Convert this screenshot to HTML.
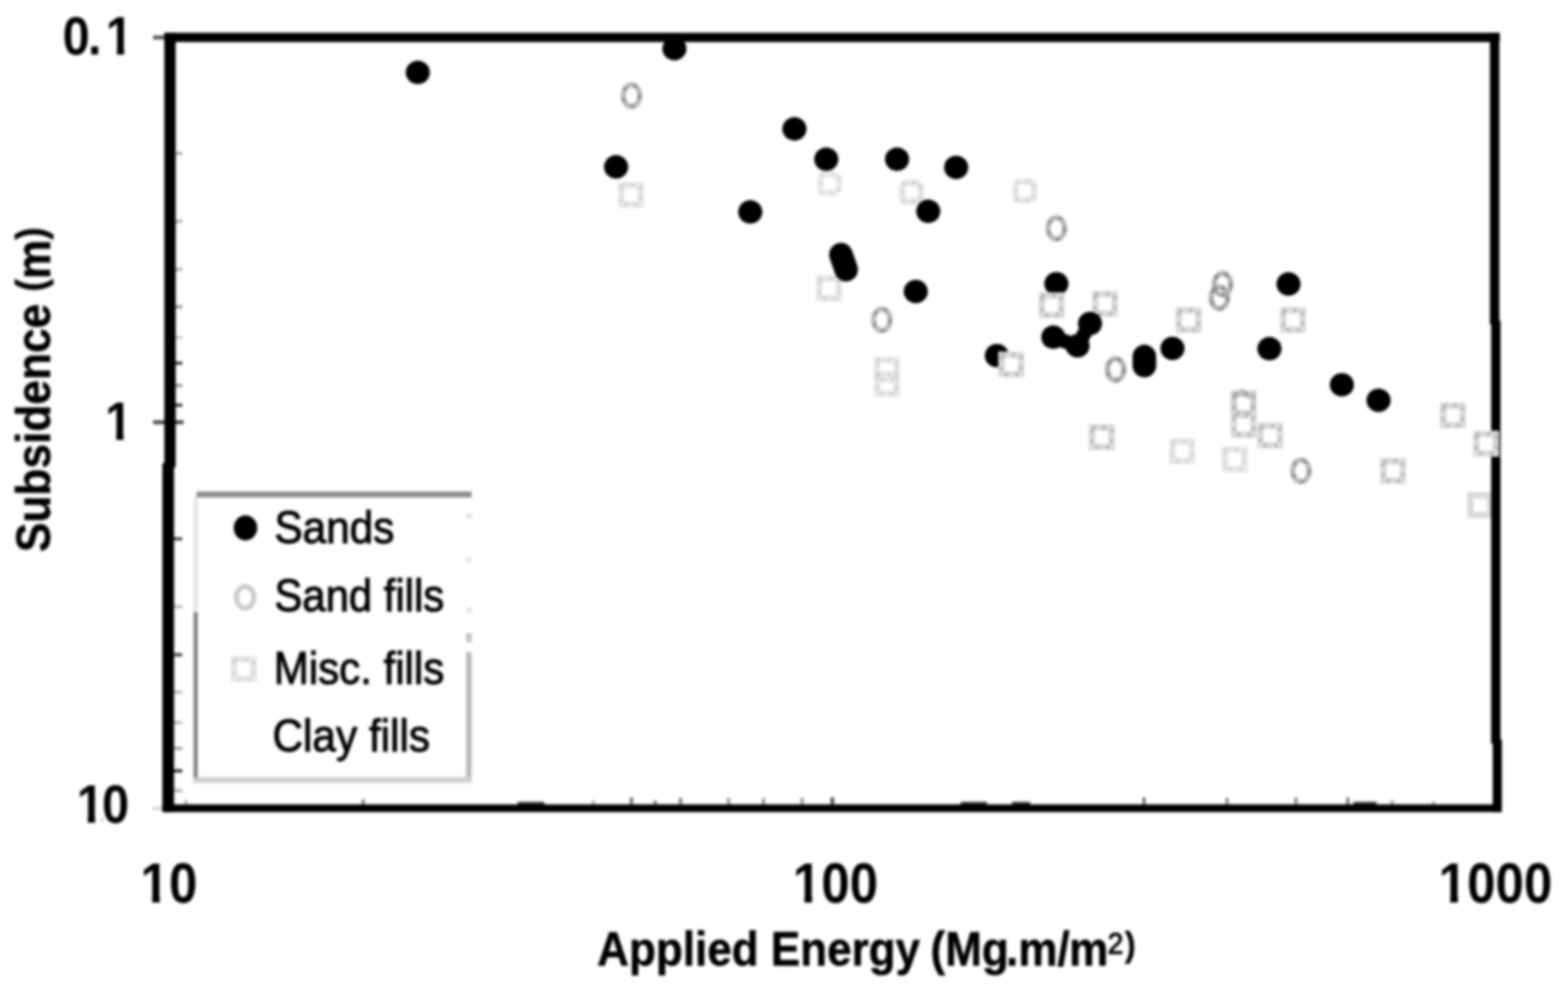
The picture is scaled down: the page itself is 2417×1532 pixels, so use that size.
<!DOCTYPE html>
<html lang="en"><head><meta charset="utf-8"><title>Subsidence vs Applied Energy</title>
<style>html,body{margin:0;padding:0;background:#fff}body{width:2417px;height:1532px;overflow:hidden}svg{display:block}text{font-family:"Liberation Sans",sans-serif;fill:#000}.b{font-weight:700}</style></head><body>
<svg width="2417" height="1532" viewBox="0 0 2417 1532" role="img" aria-label="Scatter plot of subsidence against applied energy">
<defs><filter id="bl" x="-5%" y="-5%" width="110%" height="110%" color-interpolation-filters="sRGB"><feGaussianBlur stdDeviation="2"/></filter>
<clipPath id="c0"><rect x="-20" y="-92.4" width="156.8" height="83.3"/><rect x="0.0" y="-9.6" width="46.7" height="33.8"/><rect x="43.4" y="-9.6" width="23.3" height="33.8"/><rect x="93.3" y="-9.6" width="12.5" height="12.6"/></clipPath>
<clipPath id="c1"><rect x="-20" y="-92.4" width="86.7" height="83.3"/><rect x="19.1" y="-9.6" width="12.5" height="12.6"/></clipPath>
<clipPath id="c2"><rect x="-20" y="-92.4" width="133.4" height="83.3"/><rect x="19.1" y="-9.6" width="12.5" height="12.6"/><rect x="43.7" y="-9.6" width="46.7" height="33.8"/></clipPath>
<clipPath id="c3"><rect x="-20" y="-95.7" width="136.8" height="86.3"/><rect x="19.8" y="-9.9" width="12.9" height="12.9"/><rect x="48.4" y="-9.9" width="48.4" height="35.0"/></clipPath>
<clipPath id="c4"><rect x="-20" y="-95.7" width="185.2" height="86.3"/><rect x="19.8" y="-9.9" width="12.9" height="12.9"/><rect x="48.4" y="-9.9" width="48.4" height="35.0"/><rect x="96.8" y="-9.9" width="48.4" height="35.0"/></clipPath>
<clipPath id="c5"><rect x="-20" y="-95.7" width="233.5" height="86.3"/><rect x="19.8" y="-9.9" width="12.9" height="12.9"/><rect x="48.4" y="-9.9" width="48.4" height="35.0"/><rect x="96.8" y="-9.9" width="48.4" height="35.0"/><rect x="145.2" y="-9.9" width="48.4" height="35.0"/></clipPath>
</defs>
<rect width="2417" height="1532" fill="#fff"/>
<g filter="url(#bl)">
<g stroke="#000" stroke-width="5">
<line x1="266" y1="236.5" x2="281" y2="236.5" stroke-opacity="0.30"/>
<line x1="266" y1="341.1" x2="281" y2="341.1" stroke-opacity="0.30"/>
<line x1="266" y1="415.3" x2="281" y2="415.3" stroke-opacity="0.30"/>
<line x1="266" y1="472.9" x2="281" y2="472.9" stroke-opacity="0.40"/>
<line x1="266" y1="519.9" x2="281" y2="519.9" stroke-opacity="0.20"/>
<line x1="266" y1="559.7" x2="281" y2="559.7" stroke-opacity="0.75"/>
<line x1="266" y1="594.1" x2="281" y2="594.1" stroke-opacity="0.40"/>
<line x1="266" y1="624.5" x2="281" y2="624.5" stroke-opacity="0.75"/>
<line x1="266" y1="830.5" x2="281" y2="830.5" stroke-opacity="0.70"/>
<line x1="266" y1="935.1" x2="281" y2="935.1" stroke-opacity="0.25"/>
<line x1="266" y1="1009.3" x2="281" y2="1009.3" stroke-opacity="0.70"/>
<line x1="266" y1="1066.9" x2="281" y2="1066.9" stroke-opacity="0.25"/>
<line x1="266" y1="1113.9" x2="281" y2="1113.9" stroke-opacity="0.25"/>
<line x1="266" y1="1153.7" x2="281" y2="1153.7" stroke-opacity="0.35"/>
<line x1="266" y1="1188.1" x2="281" y2="1188.1" stroke-opacity="0.80"/>
<line x1="266" y1="1218.5" x2="281" y2="1218.5" stroke-opacity="0.30"/>
<line x1="286.5" y1="1241.8" x2="286.5" y2="1233.8" stroke-opacity="0.30"/>
<line x1="559.8" y1="1241.8" x2="559.8" y2="1231.8" stroke-opacity="0.50"/>
<line x1="914.4" y1="1241.8" x2="914.4" y2="1233.8" stroke-opacity="0.30"/>
<line x1="973.4" y1="1241.8" x2="973.4" y2="1228.8" stroke-opacity="0.55"/>
<line x1="1009.8" y1="1241.8" x2="1009.8" y2="1233.8" stroke-opacity="0.50"/>
<line x1="1049.0" y1="1241.8" x2="1049.0" y2="1229.8" stroke-opacity="0.50"/>
<line x1="1123.1" y1="1241.8" x2="1123.1" y2="1229.8" stroke-opacity="0.40"/>
<line x1="1176.9" y1="1241.8" x2="1176.9" y2="1229.8" stroke-opacity="0.40"/>
<line x1="1236.5" y1="1241.8" x2="1236.5" y2="1229.8" stroke-opacity="0.40"/>
<line x1="1283.0" y1="1241.8" x2="1283.0" y2="1228.8" stroke-opacity="0.75"/>
<line x1="1763.5" y1="1241.8" x2="1763.5" y2="1228.8" stroke-opacity="0.55"/>
<line x1="1891.5" y1="1241.8" x2="1891.5" y2="1229.8" stroke-opacity="0.45"/>
<line x1="1997.6" y1="1241.8" x2="1997.6" y2="1228.8" stroke-opacity="0.45"/>
<line x1="2077.5" y1="1241.8" x2="2077.5" y2="1228.8" stroke-opacity="0.50"/>
<line x1="2145.8" y1="1241.8" x2="2145.8" y2="1233.8" stroke-opacity="0.40"/>
<line x1="2209.8" y1="1241.8" x2="2209.8" y2="1234.8" stroke-opacity="0.30"/>
</g>
<g fill="#000" fill-opacity="0.8">
<rect x="798.0" y="1235.8" width="41.0" height="6.0"/>
<rect x="1481.0" y="1235.8" width="40.0" height="6.0"/>
<rect x="1560.0" y="1235.8" width="28.0" height="6.0"/>
<rect x="2086.0" y="1235.8" width="36.0" height="6.0"/>
</g>
<g stroke="#000" stroke-width="6">
<line x1="236" y1="57.7" x2="256" y2="57.7" stroke-opacity="0.68"/>
<line x1="236" y1="650.8" x2="283" y2="650.8" stroke-opacity="0.72"/>
<line x1="236" y1="1245.7" x2="254" y2="1245.7" stroke-opacity="0.15"/>
</g>
<g stroke-width="10">
<rect x="2266.5" y="763.5" width="30" height="30" stroke="#dadada" fill="none"/>
</g>
<g fill="#000">
<rect x="253.3" y="50.6" width="17.4" height="669.4"/>
<rect x="250.3" y="714.0" width="18.0" height="537.6"/>
<rect x="253.3" y="50.6" width="2058.5" height="14.2"/>
<rect x="2296.6" y="50.6" width="14.6" height="449.4"/>
<rect x="2298.5" y="494.0" width="14.5" height="652.0"/>
<rect x="2301.0" y="1140.0" width="14.0" height="111.6"/>
<rect x="250.3" y="1239.8" width="2063.7" height="11.8"/>
</g>
<g fill="none">
<line x1="303" y1="762.1" x2="727" y2="762.1" stroke="#8e8e8e" stroke-width="9.4"/>
<line x1="301.6" y1="766" x2="301.6" y2="944" stroke="#e4e4e4" stroke-width="6.3"/>
<line x1="301.6" y1="944" x2="301.6" y2="1204" stroke="#7d7d7d" stroke-width="6.3"/>
<line x1="722.7" y1="1005" x2="722.7" y2="1204" stroke="#b9b9b9" stroke-width="8.6"/>
<line x1="722.7" y1="976" x2="722.7" y2="990" stroke="#c4c4c4" stroke-width="8.6"/>
<line x1="299" y1="1202.3" x2="727" y2="1202.3" stroke="#cdcdcd" stroke-width="8.6"/>
</g>
<g fill="#000" fill-opacity="0.12">
<rect x="719.0" y="791.0" width="8.0" height="8.0"/>
<rect x="719.0" y="859.0" width="8.0" height="8.0"/>
<rect x="719.0" y="936.0" width="8.0" height="8.0"/>
</g>
<g stroke-width="10" stroke-linejoin="miter">
<rect x="957.4" y="285.3" width="30" height="30" stroke="#e6e6e6" fill="none"/>
<rect x="1263.0" y="429.5" width="30" height="30" stroke="#e6e6e6" fill="none"/>
<rect x="1352.0" y="555.0" width="30" height="30" stroke="#e6e6e6" fill="none"/>
<rect x="1352.0" y="577.0" width="30" height="30" stroke="#e6e6e6" fill="none"/>
<rect x="1688.3" y="453.4" width="30" height="30" stroke="#dadada" fill="none"/>
<rect x="1817.2" y="478.3" width="30" height="30" stroke="#dadada" fill="none"/>
<rect x="1978.0" y="478.2" width="30" height="30" stroke="#dadada" fill="none"/>
<rect x="1683.3" y="658.9" width="30" height="30" stroke="#dadada" fill="none"/>
<rect x="1807.3" y="680.4" width="30" height="30" stroke="#e6e6e6" fill="none"/>
<rect x="1888.2" y="693.0" width="30" height="30" stroke="#e6e6e6" fill="none"/>
<rect x="1902.0" y="607.0" width="30" height="30" stroke="#cecece" fill="none"/>
<rect x="1902.0" y="640.0" width="30" height="30" stroke="#dadada" fill="none"/>
<rect x="1943.0" y="656.4" width="30" height="30" stroke="#dadada" fill="none"/>
<rect x="2132.4" y="710.7" width="30" height="30" stroke="#dadada" fill="none"/>
<rect x="2224.6" y="625.3" width="30" height="30" stroke="#dadada" fill="none"/>
<rect x="1264.2" y="268.5" width="29" height="29" rx="9" stroke="#ebebeb" fill="none"/>
<rect x="1390.5" y="281.8" width="29" height="29" rx="9" stroke="#e4e4e4" fill="none"/>
<rect x="1565.2" y="279.9" width="29" height="29" rx="9" stroke="#e6e6e6" fill="none"/>
<rect x="360.8" y="1016.5" width="30" height="30" stroke="#e6e6e6" fill="none"/>
</g>
<path d="M1902 612 L1914.5 603 L1927 612" fill="none" stroke="#bdbdbd" stroke-width="8" stroke-linejoin="round"/>
<g fill="none" stroke="#000" stroke-opacity="0.16" stroke-width="6" stroke-dasharray="5 11">
<rect x="1688.3" y="453.4" width="30" height="30"/>
<rect x="1817.2" y="478.3" width="30" height="30"/>
<rect x="1978.0" y="478.2" width="30" height="30"/>
<rect x="1683.3" y="658.9" width="30" height="30"/>
<rect x="1902.0" y="607.0" width="30" height="30"/>
<rect x="1902.0" y="640.0" width="30" height="30"/>
<rect x="1943.0" y="656.4" width="30" height="30"/>
<rect x="2132.4" y="710.7" width="30" height="30"/>
<rect x="2224.6" y="625.3" width="30" height="30"/>
</g>
<g fill="none" stroke="#000" stroke-opacity="0.08" stroke-width="6" stroke-dasharray="5 11">
<rect x="957.4" y="285.3" width="30" height="30"/>
<rect x="1263.0" y="429.5" width="30" height="30"/>
<rect x="1352.0" y="555.0" width="30" height="30"/>
<rect x="1352.0" y="577.0" width="30" height="30"/>
<rect x="1807.3" y="680.4" width="30" height="30"/>
<rect x="1888.2" y="693.0" width="30" height="30"/>
<rect x="1264.7" y="269.0" width="28" height="28"/>
<rect x="1391.0" y="282.3" width="28" height="28"/>
<rect x="1565.7" y="280.4" width="28" height="28"/>
<rect x="360.8" y="1016.5" width="30" height="30"/>
</g>
<g fill="none" stroke-width="8">
<ellipse cx="973.4" cy="147.4" rx="12.7" ry="16.7" stroke="#b8b8b8"/>
<ellipse cx="1628.3" cy="352.0" rx="12.7" ry="16.7" stroke="#b8b8b8"/>
<ellipse cx="1359.3" cy="493.0" rx="12.7" ry="16.7" stroke="#bababa"/>
<ellipse cx="1884.5" cy="438.0" rx="12.7" ry="16.7" stroke="#b2b2b2"/>
<ellipse cx="1879.6" cy="459.0" rx="12.7" ry="16.7" stroke="#b2b2b2"/>
<ellipse cx="1719.7" cy="569.5" rx="12.7" ry="16.7" stroke="#b2b2b2"/>
<ellipse cx="2005.4" cy="725.7" rx="12.7" ry="16.7" stroke="#bababa"/>
<ellipse cx="377.8" cy="920.6" rx="13.5" ry="16.5" stroke="#cccccc"/>
</g>
<g fill="none" stroke="#000" stroke-opacity="0.2" stroke-width="6" stroke-dasharray="6 12">
<ellipse cx="973.4" cy="147.4" rx="12.7" ry="16.7"/>
<ellipse cx="1628.3" cy="352.0" rx="12.7" ry="16.7"/>
<ellipse cx="1359.3" cy="493.0" rx="12.7" ry="16.7"/>
<ellipse cx="1884.5" cy="438.0" rx="12.7" ry="16.7"/>
<ellipse cx="1879.6" cy="459.0" rx="12.7" ry="16.7"/>
<ellipse cx="1719.7" cy="569.5" rx="12.7" ry="16.7"/>
<ellipse cx="2005.4" cy="725.7" rx="12.7" ry="16.7"/>
</g>
<g fill="#000" stroke="#000" stroke-width="36.4" stroke-linecap="round">
<ellipse cx="644.0" cy="111.6" rx="18.6" ry="18.1" stroke="none"/>
<ellipse cx="1039.6" cy="75.0" rx="18.6" ry="18.1" stroke="none"/>
<ellipse cx="949.7" cy="257.2" rx="18.6" ry="18.1" stroke="none"/>
<ellipse cx="1224.6" cy="198.6" rx="18.6" ry="18.1" stroke="none"/>
<ellipse cx="1273.7" cy="245.4" rx="18.6" ry="18.1" stroke="none"/>
<ellipse cx="1382.8" cy="245.4" rx="18.6" ry="18.1" stroke="none"/>
<ellipse cx="1473.9" cy="258.0" rx="18.6" ry="18.1" stroke="none"/>
<ellipse cx="1156.5" cy="326.6" rx="18.6" ry="18.1" stroke="none"/>
<ellipse cx="1430.9" cy="325.6" rx="18.6" ry="18.1" stroke="none"/>
<line x1="1296.3" y1="392.5" x2="1304.3" y2="415.5"/>
<ellipse cx="1411.6" cy="449.3" rx="18.6" ry="18.1" stroke="none"/>
<ellipse cx="1628.4" cy="437.3" rx="18.6" ry="18.1" stroke="none"/>
<ellipse cx="1623.6" cy="519.6" rx="18.6" ry="18.1" stroke="none"/>
<ellipse cx="1661.0" cy="533.0" rx="18.6" ry="18.1" stroke="none"/>
<ellipse cx="1680.2" cy="498.6" rx="18.6" ry="18.1" stroke="none"/>
<ellipse cx="1536.6" cy="548.0" rx="18.6" ry="18.1" stroke="none"/>
<line x1="1764.0" y1="549.5" x2="1764.0" y2="563.5"/>
<ellipse cx="1807.3" cy="537.0" rx="18.6" ry="18.1" stroke="none"/>
<ellipse cx="1956.8" cy="537.4" rx="18.6" ry="18.1" stroke="none"/>
<ellipse cx="1986.2" cy="437.7" rx="18.6" ry="18.1" stroke="none"/>
<ellipse cx="2068.4" cy="593.0" rx="18.6" ry="18.1" stroke="none"/>
<ellipse cx="2125.0" cy="617.0" rx="18.6" ry="18.1" stroke="none"/>
<path d="M1623.6 519.6 L1661 533 L1680.2 498.6" fill="none" stroke-width="22" stroke-linejoin="round"/>
<ellipse cx="378.4" cy="813.6" rx="18.2" ry="19.4" stroke="none"/>
</g>
<g stroke-width="10">
<rect x="1543.8" y="546.8" width="30" height="30" stroke="#dadada" fill="#fff"/>
<rect x="1606.0" y="455.5" width="30" height="30" stroke="#dadada" fill="#fff"/>
<rect x="2275.7" y="668.9" width="30" height="30" stroke="#dadada" fill="#fff"/>
</g>
<g fill="none" stroke="#000" stroke-opacity="0.16" stroke-width="6" stroke-dasharray="5 11">
<rect x="1543.8" y="546.8" width="30" height="30"/>
<rect x="1606.0" y="455.5" width="30" height="30"/>
<rect x="2275.7" y="668.9" width="30" height="30"/>
</g>
<text class="b" font-size="84" transform="translate(96.6 83.5) scale(0.896 1)" clip-path="url(#c0)" dx="0 -3.3 7.4">0.1</text>
<text class="b" font-size="84" transform="translate(162.1 677.5) scale(0.896 1)" clip-path="url(#c1)">1</text>
<text class="b" font-size="84" transform="translate(118.2 1267.5) scale(0.896 1)" clip-path="url(#c2)" dx="0 -3">10</text>
<text class="b" font-size="87" transform="translate(216.6 1390.5) scale(0.906 1)" clip-path="url(#c3)">10</text>
<text class="b" font-size="87" transform="translate(1222.1 1390.5) scale(0.906 1)" clip-path="url(#c4)">100</text>
<text class="b" font-size="87" transform="translate(2217.6 1390.5) scale(0.906 1)" clip-path="url(#c5)">1000</text>
<g class="b" stroke="#000" stroke-width="0.8" font-size="74">
<text transform="translate(920.5 1488) scale(0.917 1)" dx="0 0 0 0 0 0 0 0 0 0 0 0 0 0 0 -3 0 0 -4.5 0 0 -1">Applied Energy (Mg.m/m<tspan font-size="47" font-weight="400" stroke-width="1.6" dy="-18" dx="-1">2</tspan><tspan font-size="54" dy="3.5" dx="3">)</tspan></text>
<text transform="translate(77 851) rotate(-90) scale(0.922 1)">Subsidence <tspan font-size="62" dy="-8">(</tspan><tspan dy="8">m</tspan><tspan font-size="62" dy="-8">)</tspan></text>
</g>
<g stroke="#000" stroke-width="1.5" font-size="71">
<text transform="translate(423 837) scale(0.919 1)">Sands</text>
<text transform="translate(423 942) scale(0.909 1)">Sand fills</text>
<text transform="translate(422 1054) scale(0.913 1)">Misc. fills</text>
<text transform="translate(420 1158) scale(0.919 1)">Clay fills</text>
</g>
</g>
</svg></body></html>
